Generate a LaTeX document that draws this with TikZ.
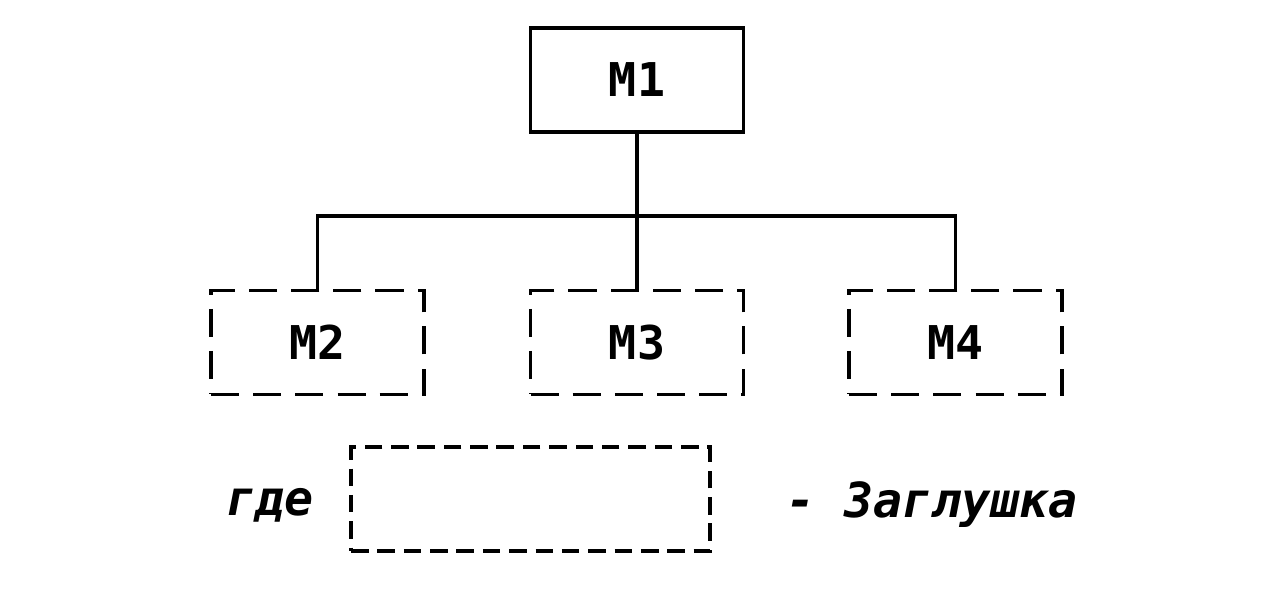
\documentclass[tikz,border=0pt]{standalone}
\usepackage{fontspec}
\setmonofont{DejaVu Sans Mono}[BoldFont={DejaVu Sans Mono Bold},BoldItalicFont={DejaVu Sans Mono Bold Oblique}]
\usetikzlibrary{positioning}

\tikzset{
  module/.style={draw,line width=1.9pt,minimum width=4.26cm,minimum height=2.08cm,
    font=\ttfamily\bfseries\fontsize{26.5}{30}\selectfont},
  stubbox/.style={module,dash pattern=on 16pt off 8pt},
  legend/.style={font=\ttfamily\bfseries\itshape\fontsize{27.5}{32}\selectfont}
}

\begin{document}
\begin{tikzpicture}[x=0.02cm,y=-0.02cm]
      \useasboundingbox (0,0) rectangle (1280,591);
      \node[module] (m1) at (637, 80) {M1};
      \node[stubbox] (m2) at (317.5, 342.5) {M2};
      \node[stubbox] (m3) at (637, 342.5) {M3};
      \node[stubbox] (m4) at (955.5, 342.5) {M4};
      \coordinate (bus) at (637, 216);
      \draw[line width=1.9pt] (m1.south) -- (m3.north);
      \draw[line width=1.9pt] (m2.north) |- (bus) -| (m4.north);
      \node[module,dash pattern=on 10pt off 5pt,minimum width=7.18cm] (stub) at (530.5, 499) {};
      \node[legend] (label1) at (270, 505) {где};
      \node[legend] (label2) at (932, 505) {- Заглушка};
    \end{tikzpicture}
\end{document}
